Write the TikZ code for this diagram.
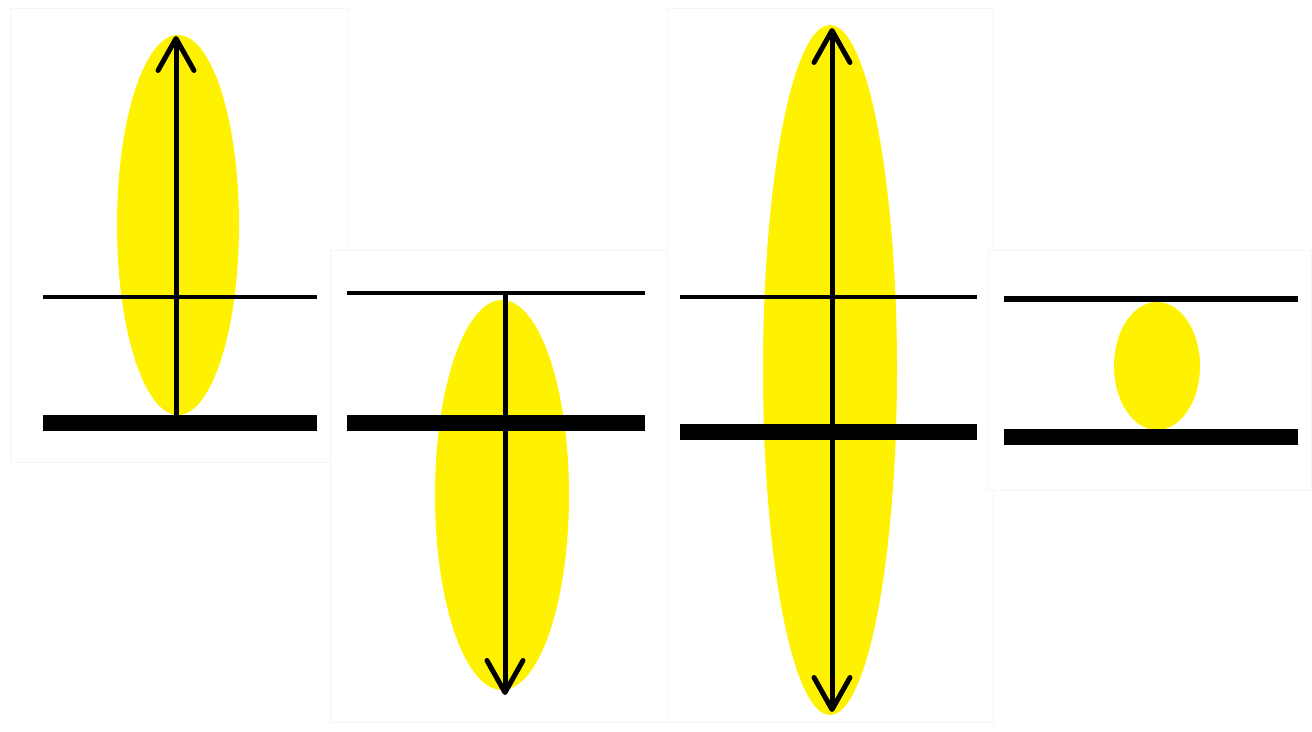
\documentclass[tikz,border=0pt]{standalone}
\usetikzlibrary{arrows.meta}
\usepackage{xcolor}
\definecolor{lensyellow}{RGB}{255,242,0}

\begin{document}
\begin{tikzpicture}[x=0.02cm,y=-0.02cm,>={Straight Barb[length=6.4mm,width=7.2mm,round]},line cap=butt,
  panel/.style={draw=gray!8,line width=0.3pt,fill=white},
  thinbar/.style={line width=0.09cm},
  thickbar/.style={line width=0.31cm},
  shaft/.style={line width=0.1cm}]
\useasboundingbox (0,0) rectangle (1312,732);
% faint frames
\draw[panel] (10,8) rectangle (348,462);
\draw[panel] (330,250) rectangle (667,722);
\draw[panel] (667,8) rectangle (993,722);
\draw[panel] (988,250) rectangle (1311,490);
% blobs
\fill[lensyellow] (178,225) ellipse [x radius=61,y radius=190];
\fill[lensyellow] (502,495) ellipse [x radius=67,y radius=195];
\fill[lensyellow] (830,370) ellipse [x radius=67,y radius=345];
\fill[lensyellow] (1157,366) ellipse [x radius=43,y radius=64];
% arrow ends
\coordinate (a1) at (176,415);
\coordinate (b1) at (176,36);
\coordinate (a2) at (505,293);
\coordinate (b2) at (505,695);
\coordinate (a3) at (832,712);
\coordinate (b3) at (832,28);
% bars
\draw[thinbar] (43,297) -- (317,297);
\draw[thickbar] (43,423) -- (317,423);
\draw[thinbar] (347,293) -- (645,293);
\draw[thickbar] (347,423) -- (645,423);
\draw[thinbar] (680,297) -- (977,297);
\draw[thickbar] (680,432) -- (977,432);
\draw[line width=0.12cm] (1004,299) -- (1298,299);
\draw[line width=0.32cm] (1004,437) -- (1298,437);
% arrows
\draw[shaft,->] (a1) -- (b1);
\draw[shaft,->] (a2) -- (b2);
\draw[shaft,<->] (a3) -- (b3);
\end{tikzpicture}
\end{document}
